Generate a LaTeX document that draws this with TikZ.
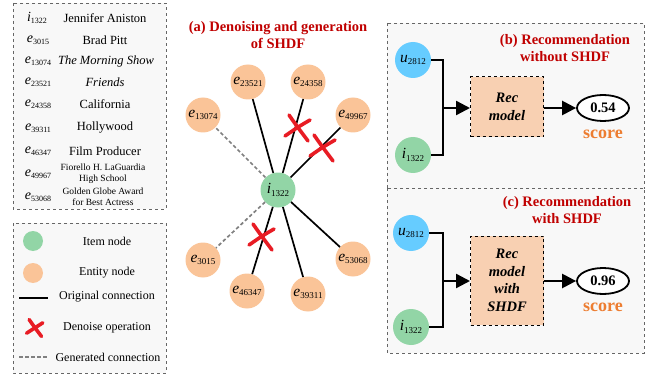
\documentclass[tikz,border=0pt]{standalone}
\usepackage{fontspec}
\setmainfont{Liberation Serif}
\usepackage{tikz}
\usetikzlibrary{arrows.meta,shapes.geometric}

\definecolor{itemgreen}{RGB}{146,213,166}
\definecolor{entorange}{RGB}{250,196,152}
\definecolor{userblue}{RGB}{102,204,255}
\definecolor{recpeach}{RGB}{248,208,178}
\definecolor{titlered}{RGB}{192,0,0}
\definecolor{scoreorange}{RGB}{237,125,49}
\definecolor{crossred}{RGB}{232,28,36}
\definecolor{panelgray}{RGB}{248,248,248}

% 符号: 字母加下标
\newcommand{\sym}[2]{{\fontsize{15.5}{15}\selectfont\itshape #1}\raisebox{-0.5ex}{\fontsize{9}{9}\selectfont #2}}
\newcommand{\lsym}[2]{{\fontsize{14}{14}\selectfont\itshape #1}\raisebox{-0.5ex}{\fontsize{8}{8}\selectfont #2}}

\tikzset{
  entity/.style={circle, fill=entorange, minimum size=35, inner sep=0},
  item/.style={circle, fill=itemgreen, minimum size=35, inner sep=0},
  user/.style={circle, fill=userblue, minimum size=36, inner sep=0},
  edge/.style={line width=1.7pt},
  gen/.style={line width=1.7pt, gray, dash pattern=on 3.5pt off 2.5pt},
  xmark/.style={line width=3.6pt, crossred, line cap=round},
  panel/.style={draw=gray!80!black, dashed, line width=0.8pt, fill=panelgray},
  title/.style={text=titlered, font=\fontsize{14.5}{17}\selectfont\bfseries, align=center},
  recbox/.style={draw, dashed, line width=1pt, fill=recpeach, minimum width=73, align=center,
    font=\fontsize{14.5}{17.5}\selectfont\bfseries\itshape},
  scorebox/.style={ellipse, draw, line width=1.8pt, fill=white, minimum width=52, minimum height=26,
    inner sep=0, font=\fontsize{14.5}{14}\selectfont\bfseries},
  scorelbl/.style={text=scoreorange, font=\fontsize{18}{18}\selectfont\bfseries},
  conn/.style={line width=2.4pt},
  arr/.style={line width=2.4pt, -{Triangle[length=14pt,width=14pt]}},
  lgtext/.style={font=\fontsize{12.5}{13}\selectfont},
  lgtext2/.style={font=\fontsize{12}{13}\selectfont},
  lgsmall/.style={font=\fontsize{9.5}{11}\selectfont, align=center},
  redx/.pic={
    \draw[xmark] (-9,-13) .. controls (-2,-3) .. (10,13);
    \draw[xmark] (-13,8) .. controls (0,-1) .. (12,-8);
  }
}

\begin{document}
\begin{tikzpicture}[x=1pt,y=-1pt]
  \useasboundingbox (0,0) rectangle (656,377);

  % 图例 1: 符号表
  \draw[panel] (13,3) rectangle (166,209);
  \node (l1) at (37,18) {\lsym{i}{1322}};
  \node[lgtext] at (105,18) {Jennifer Aniston};
  \node (l2) at (38,40) {\lsym{e}{3015}};
  \node[lgtext] at (105,40) {Brad Pitt};
  \node (l3) at (38,61) {\lsym{e}{13074}};
  \node[lgtext] at (106,61) {\itshape The Morning Show};
  \node (l4) at (38,82) {\lsym{e}{23521}};
  \node[lgtext] at (105,82) {\itshape Friends};
  \node (l5) at (38,104) {\lsym{e}{24358}};
  \node[lgtext] at (105,104) {California};
  \node (l6) at (38,128) {\lsym{e}{39311}};
  \node[lgtext] at (105,128) {Hollywood};
  \node (l7) at (38,151) {\lsym{e}{46347}};
  \node[lgtext] at (105,151) {Film Producer};
  \node (l8) at (38,174) {\lsym{e}{49967}};
  \node[lgsmall] at (103,174) {Fiorello H. LaGuardia\\High School};
  \node (l9) at (38,197) {\lsym{e}{53068}};
  \node[lgsmall] at (103,197) {Golden Globe Award\\for Best Actress};

  % 图例 2: 图形说明
  \draw[panel] (13,223) rectangle (166,373);
  \fill[itemgreen] (33,241) circle (10);
  \node[lgtext2] at (107,241) {Item node};
  \fill[entorange] (33,273) circle (10);
  \node[lgtext2] at (107,273) {Entity node};
  \draw[edge, line width=2pt] (19,298) -- (48,298);
  \node[lgtext2] at (107,297) {Original connection};
  \pic[scale=0.65] at (35,328) {redx};
  \node[lgtext2] at (107,328) {Denoise operation};
  \draw[gen, line width=1.2pt] (19,357) -- (48,357);
  \node[lgtext2] at (108,357) {Generated connection};

  % (a) 去噪与生成
  \node[title] (ta) at (278,35) {(a) Denoising and generation\\of SHDF};
  \node[item] (i0) at (278,190) {\sym{i}{1322}};
  \node[entity] (e13074) at (203,115) {\sym{e}{13074}};
  \node[entity] (e23521) at (248,82) {\sym{e}{23521}};
  \node[entity] (e24358) at (308,82) {\sym{e}{24358}};
  \node[entity] (e49967) at (353,115) {\sym{e}{49967}};
  \node[entity] (e3015) at (203,260) {\sym{e}{3015}};
  \node[entity] (e46347) at (247,291) {\sym{e}{46347}};
  \node[entity] (e39311) at (308,294) {\sym{e}{39311}};
  \node[entity] (e53068) at (353,259) {\sym{e}{53068}};

  \draw[gen] (i0) -- (e13074);
  \draw[gen] (i0) -- (e3015);
  \draw[edge] (i0) -- (e23521);
  \draw[edge] (i0) -- (e24358);
  \draw[edge] (i0) -- (e49967);
  \draw[edge] (i0) -- (e46347);
  \draw[edge] (i0) -- (e39311);
  \draw[edge] (i0) -- (e53068);

  % 去噪标记
  \pic at (298,128) {redx};
  \pic at (323,148) {redx};
  \pic at (262,237) {redx};

  % (b) 无 SHDF 的推荐
  \draw[panel] (387,23) rectangle (644,188);
  \node[title] (tb) at (565,48) {(b) Recommendation\\without SHDF};
  \node[user] (u1) at (413,60) {\sym{u}{2812}};
  \node[item, minimum size=36] (i1) at (413,155) {\sym{i}{1322}};
  \node[recbox, minimum height=60] (rec1) at (507,107) {Rec\\model};
  \node[scorebox] (s1) at (603,108) {0.54};
  \node[scorelbl] (sc1) at (603,134) {score};
  \coordinate (j1) at (443,108);
  \draw[conn] (u1.east) -| (j1) |- (i1.east);
  \draw[arr] (j1) -- (rec1.west |- j1);
  \draw[arr] (rec1.east |- s1) -- (s1.west);

  % (c) 有 SHDF 的推荐
  \draw[panel] (387,188) rectangle (644,353);
  \node[title] (tc) at (567,210) {(c) Recommendation\\with SHDF};
  \node[user] (u2) at (411,233) {\sym{u}{2812}};
  \node[item, minimum size=36] (i2) at (411,327) {\sym{i}{1322}};
  \node[recbox, minimum height=89] (rec2) at (507,280.5) {Rec\\model\\with\\SHDF};
  \node[scorebox] (s2) at (603,281) {0.96};
  \node[scorelbl] (sc2) at (603,307) {score};
  \coordinate (j2) at (443,281);
  \draw[conn] (u2.east) -| (j2) |- (i2.east);
  \draw[arr] (j2) -- (rec2.west |- j2);
  \draw[arr] (rec2.east |- s2) -- (s2.west);
\end{tikzpicture}
\end{document}
